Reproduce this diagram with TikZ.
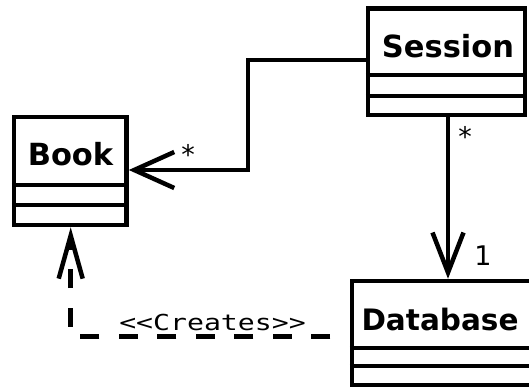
\documentclass[tikz,border=0pt]{standalone}
\usepackage{fontspec}
\usetikzlibrary{arrows.meta}
\newfontfamily\dvs{DejaVu Sans}
\newfontfamily\dvsm{DejaVu Sans Mono}
\begin{document}
\begin{tikzpicture}[x=1pt,y=-1pt,
  cls/.style={draw, line width=4.5pt, inner sep=0pt, rectangle},
  divider/.style={line width=4.5pt},
  ttl/.style={font=\dvs\bfseries\fontsize{30.5}{36}\selectfont, inner sep=0pt, anchor=base},
  mult/.style={font=\dvs\fontsize{27}{32}\selectfont, inner sep=0pt, anchor=base},
  conn/.style={line width=4.5pt},
  stereo/.style={font=\dvsm\fontsize{22}{26}\selectfont, inner sep=0pt, anchor=base}]
\useasboundingbox (0,0) rectangle (529,389);
% classes
\node[cls, minimum width=112.5pt, minimum height=108pt] (book) at (70.25,171) {};
\node[cls, minimum width=157pt, minimum height=106.5pt] (session) at (446.5,61.75) {};
\node[cls, minimum width=179pt, minimum height=104pt] (db) at (441.5,333) {};
% compartments
\draw[divider] (book.west |- 0,185) -- (book.east |- 0,185);
\draw[divider] (book.west |- 0,205) -- (book.east |- 0,205);
\draw[divider] (session.west |- 0,75) -- (session.east |- 0,75);
\draw[divider] (session.west |- 0,96) -- (session.east |- 0,96);
\draw[divider] (db.west |- 0,348) -- (db.east |- 0,348);
\draw[divider] (db.west |- 0,366) -- (db.east |- 0,366);
% titles
\node[ttl] (bookt) at (70.5,165) {Book};
\node[ttl] (sesst) at (448,57) {Session};
\node[ttl, font=\dvs\bfseries\fontsize{29.5}{36}\selectfont] (dbt) at (440,330) {Database};
% Session -> Book
\coordinate (k1) at (248,60);
\coordinate (k2) at (248,170);
\draw[conn, -{Straight Barb[length=40pt,width=36pt]}] (session.west |- k1) -- (k1) -- (k2) -- (book.east |- k2);
% Session -> Database
\coordinate (v) at (448,0);
\draw[conn, -{Straight Barb[length=40pt,width=31pt]}] (session.south -| v) -- (db.north -| v);
% Database creates Book
\coordinate (d1) at (70.7,336.5);
\draw[conn, dash pattern=on 19pt off 19.5pt, dash phase=19pt, -{Straight Barb[length=43pt,width=24pt]}] (db.west |- d1) -- (d1) -- (book.south -| d1);
% labels
\node[stereo] (lbl) at (212.5,330) {\scalebox{1.28}[1]{<\kern0pt<Creates>\kern0pt>}};
\node[mult] (m1) at (188,164) {*};
\node[mult] (m2) at (465,146) {*};
\node[mult] (m3) at (483,265) {1};
\end{tikzpicture}
\end{document}
